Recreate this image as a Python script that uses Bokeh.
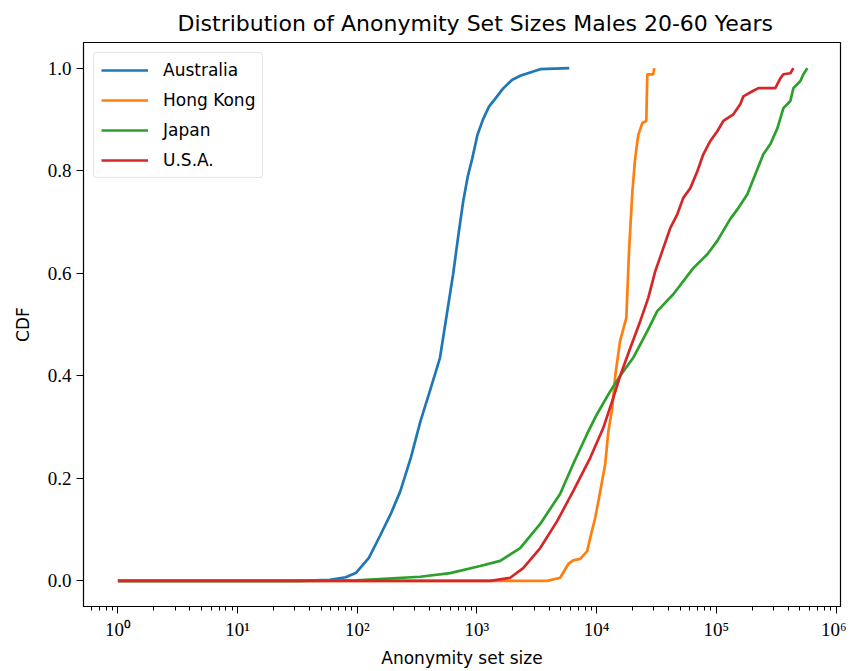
from bokeh.plotting import figure
from bokeh.models import Range1d, FixedTicker, Legend, LegendItem
from bokeh.embed import file_html
from bokeh.resources import INLINE

title = "Distribution of Anonymity Set Sizes Males 20-60 Years"
series_names = ["Australia", "Hong Kong", "Japan", "U.S.A."]
colors = ["#1f77b4", "#ff7f0e", "#2ca02c", "#d62728"]

aus_size = [1, 33, 59, 80, 98, 125, 155, 190, 229, 280, 336, 410, 491, 560, 632, 700, 767, 840, 912,
            1010, 1124, 1260, 1419, 1650, 1960, 2300, 2660, 3380, 5900]
aus_cdf = [0, 0, 0.002, 0.007, 0.016, 0.045, 0.088, 0.13, 0.175, 0.24, 0.31, 0.375, 0.435, 0.52, 0.598,
           0.675, 0.74, 0.79, 0.823, 0.87, 0.90, 0.925, 0.94, 0.96, 0.977, 0.985, 0.99, 0.998, 1.0]

hk_size = [1, 3864, 4960, 5800, 6370, 7290, 8340, 8840, 9730, 10720, 11800, 12500, 13500, 14300,
           15700, 17700, 18700, 19900, 21000, 22300, 24100, 26000, 26500, 29700, 30300]
hk_cdf = [0, 0, 0.006, 0.033, 0.04, 0.043, 0.058, 0.084, 0.123, 0.175, 0.228, 0.29, 0.337, 0.40,
          0.468, 0.513, 0.649, 0.76, 0.825, 0.87, 0.893, 0.897, 0.988, 0.988, 1.0]

jp_size = [1, 33, 98, 335, 597, 1064, 1563, 2297, 3377, 4960, 6370, 8340, 10110, 13000, 15740,
           20200, 26500, 32100, 43700, 64200, 84100, 101900, 130900, 152700, 181600, 211800,
           247000, 283000, 324000, 363400, 415500, 440400, 503800, 533700, 576500]
jp_cdf = [0, 0, 0.001, 0.008, 0.015, 0.029, 0.039, 0.064, 0.111, 0.17, 0.228, 0.287, 0.326, 0.37, 0.40,
          0.435, 0.487, 0.526, 0.559, 0.61, 0.637, 0.663, 0.706, 0.727, 0.754, 0.793,
          0.832, 0.852, 0.883, 0.922, 0.936, 0.961, 0.975, 0.988, 1.0]

us_size = [1, 1290, 1896, 2434, 3377, 4690, 6370, 8840, 11350, 13770, 15740, 19100, 23170, 27000,
           30900, 35340, 41200, 47200, 52960, 60650, 69400, 77860, 89100, 101900, 114500, 138800,
           158900, 168300, 200000, 224500, 311000, 342600, 363400, 415500, 440400]
us_cdf = [0, 0, 0.006, 0.025, 0.064, 0.117, 0.175, 0.24, 0.298, 0.357, 0.40, 0.454, 0.507, 0.552,
          0.604, 0.643, 0.688, 0.715, 0.747, 0.766, 0.799, 0.832, 0.858, 0.877, 0.897, 0.91,
          0.93, 0.945, 0.955, 0.961, 0.961, 0.98, 0.988, 0.99, 1.0]

x_ticks = [1, 10, 100, 1000, 10000, 100000, 1000000]
x_tick_labels = ["10⁰", "10¹", "10²", "10³", "10⁴", "10⁵", "10⁶"]
y_ticks = [0.0, 0.2, 0.4, 0.6, 0.8, 1.0]
y_tick_labels = ["0.0", "0.2", "0.4", "0.6", "0.8", "1.0"]

p = figure(width=846, height=670, x_axis_type="log", output_backend="svg", toolbar_location=None,
           x_range=Range1d(10 ** -0.2875, 10 ** 6.0375), y_range=Range1d(-0.05, 1.05),
           min_border_left=83, min_border_right=6, min_border_top=42, min_border_bottom=62)
p.title.text = title
p.title.align = "left"
p.title.offset = 94
p.title.text_font = "DejaVu Sans"
p.title.text_font_size = "22px"
p.title.text_font_style = "normal"
p.title.text_color = "black"
p.title.standoff = 14

p.xgrid.visible = False
p.ygrid.visible = False
p.outline_line_color = "black"
p.outline_line_width = 1.2

renderers = []
for xs, ys, c in [(aus_size, aus_cdf, colors[0]), (hk_size, hk_cdf, colors[1]),
                  (jp_size, jp_cdf, colors[2]), (us_size, us_cdf, colors[3])]:
    renderers.append(p.line(xs, ys, line_color=c, line_width=2.7))

p.xaxis.ticker = FixedTicker(ticks=x_ticks,
                             minor_ticks=[m * 10 ** e for e in range(-1, 7) for m in range(2, 10)])
p.xaxis.major_label_overrides = {t: l for t, l in zip(x_ticks, x_tick_labels)}
p.yaxis.ticker = FixedTicker(ticks=y_ticks)
p.yaxis.major_label_overrides = {t: l for t, l in zip(y_ticks, y_tick_labels)}

for ax in (p.xaxis[0], p.yaxis[0]):
    ax.axis_line_color = "black"
    ax.major_tick_line_color = "black"
    ax.minor_tick_line_color = "black"
    ax.major_tick_in = 0
    ax.major_tick_out = 7
    ax.minor_tick_in = 0
    ax.minor_tick_out = 4
    ax.major_label_text_font = "Liberation Serif"
    ax.major_label_text_font_size = "19px"
    ax.major_label_text_color = "black"
    ax.axis_label_text_font = "DejaVu Sans"
    ax.axis_label_text_font_size = "17px"
    ax.axis_label_text_font_style = "normal"
    ax.axis_label_text_color = "black"
p.yaxis.minor_tick_line_color = None
p.xaxis.axis_label = "Anonymity set size"
p.yaxis.axis_label = "CDF"
p.xaxis.major_label_standoff = 5
p.yaxis.major_label_standoff = 5
p.xaxis.axis_label_standoff = 5
p.yaxis.axis_label_standoff = 12

legend = Legend(items=[LegendItem(label=n, renderers=[r]) for n, r in zip(series_names, renderers)],
                location="top_left")
legend.label_text_font = "DejaVu Sans"
legend.label_text_font_size = "17px"
legend.label_text_color = "black"
legend.glyph_width = 47
legend.glyph_height = 20
legend.label_standoff = 15
legend.label_height = 20
legend.spacing = 10
legend.padding = 7
legend.margin = 10
legend.border_line_color = "#cccccc"
legend.border_line_width = 1.5
legend.background_fill_alpha = 0.8
try:
    legend.border_radius = 4
except Exception:
    pass
p.add_layout(legend)

open("out.html", "w").write(file_html(p, INLINE))
